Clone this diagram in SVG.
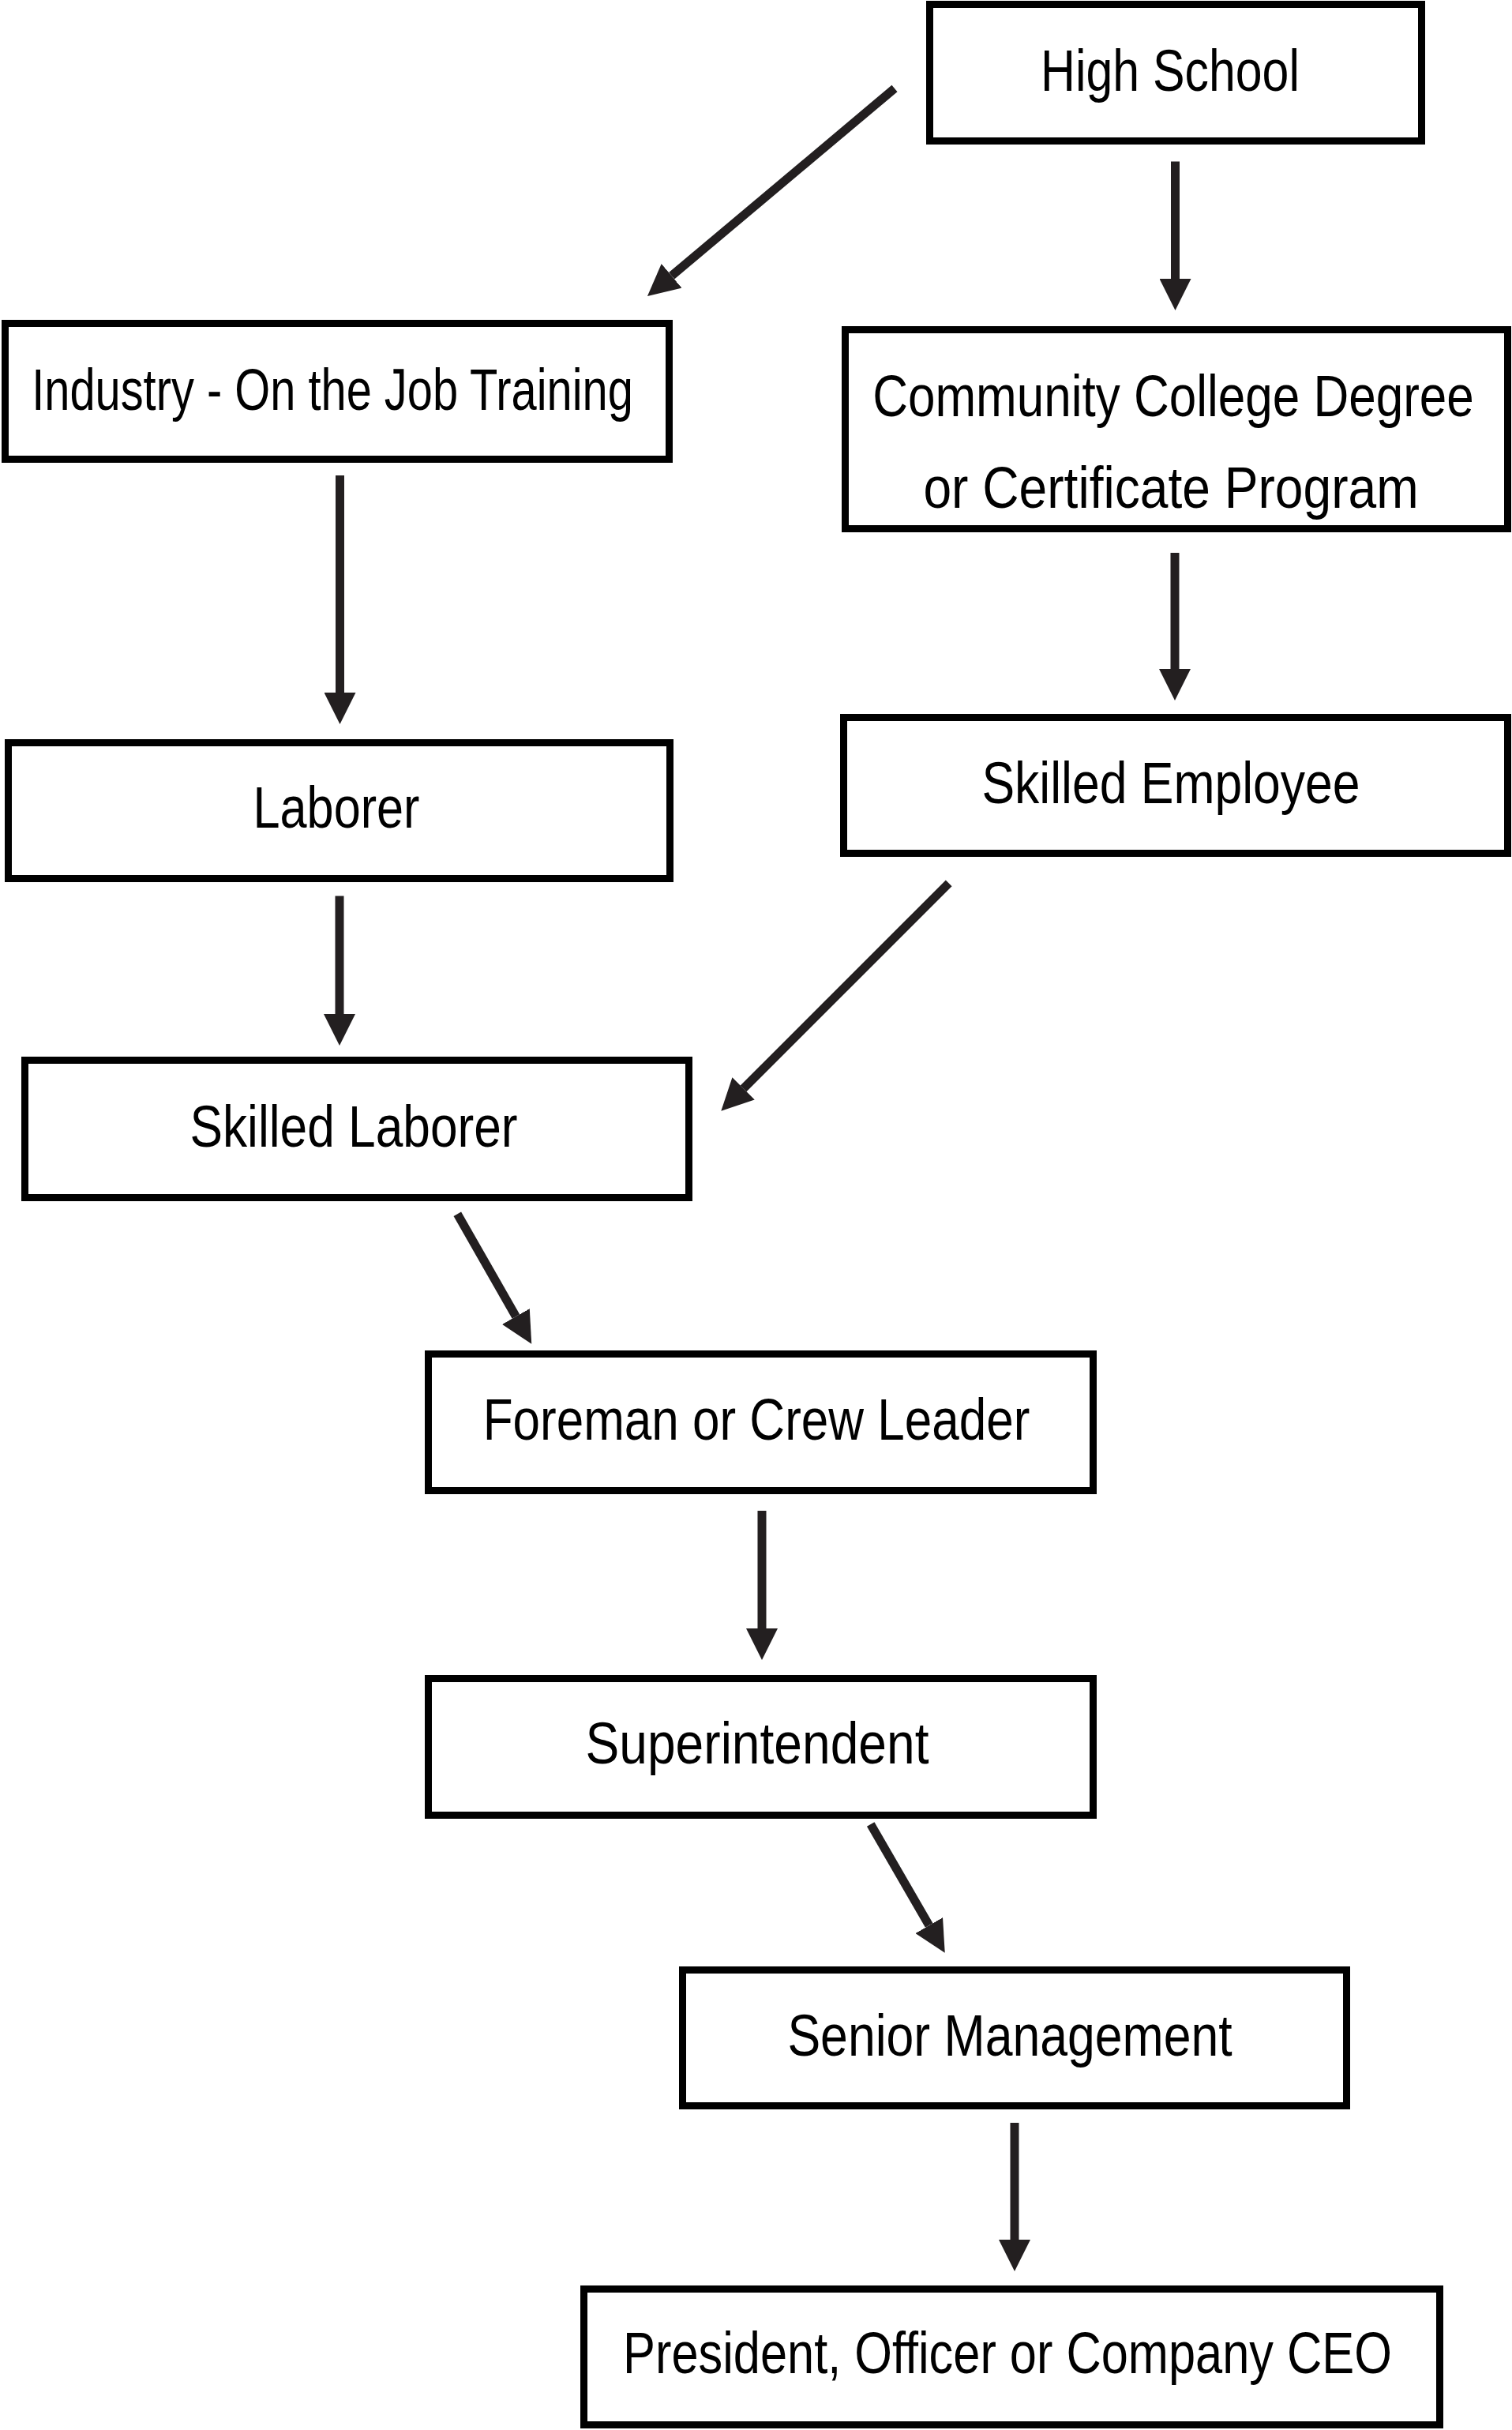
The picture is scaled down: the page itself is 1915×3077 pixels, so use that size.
<svg xmlns="http://www.w3.org/2000/svg" width="1915" height="3077" viewBox="0 0 1915 3077">
<style>
.box{fill:#fff;stroke:#000;stroke-width:9}
.lbl{font-family:"Liberation Sans",Arial,sans-serif;font-size:75px;fill:#000;text-anchor:middle}
.arr{stroke:#231f20;stroke-width:11;fill:none;marker-end:url(#ah)}
</style>
<defs>
<marker id="ah" markerUnits="userSpaceOnUse" viewBox="0 0 40 40" markerWidth="40" markerHeight="40" refX="0" refY="20" orient="auto">
<path d="M0,0 L40,20 L0,40 Z" fill="#231f20"/>
</marker>
</defs>
<rect width="1915" height="3077" fill="#fff"/>
<g id="connectors">
<line class="arr" x1="1133" y1="112" x2="850.6" y2="349.3"/>
<line class="arr" x1="1488.5" y1="204.5" x2="1488.5" y2="353"/>
<line class="arr" x1="430.5" y1="602" x2="430.5" y2="877"/>
<line class="arr" x1="1488" y1="700" x2="1488" y2="847"/>
<line class="arr" x1="430" y1="1134.5" x2="430" y2="1284"/>
<line class="arr" x1="1201.7" y1="1118.3" x2="941.6" y2="1378.4"/>
<line class="arr" x1="579.3" y1="1537.3" x2="653.4" y2="1667"/>
<line class="arr" x1="965" y1="1913" x2="965" y2="2062"/>
<line class="arr" x1="1102.7" y1="2310" x2="1176.7" y2="2438.1"/>
<line class="arr" x1="1285" y1="2688" x2="1285" y2="2836"/>
</g>
<g id="high-school">
<rect class="box" x="1177.5" y="5.5" width="623" height="173"/>
<text class="lbl" transform="translate(1482,115) scale(0.811,1)">High School</text>
</g>
<g id="industry">
<rect class="box" x="6.5" y="409.5" width="841" height="172"/>
<text class="lbl" transform="translate(421,519) scale(0.771,1)">Industry - On the Job Training</text>
</g>
<g id="community-college">
<rect class="box" x="1070.5" y="417.5" width="839" height="252"/>
<text class="lbl" transform="translate(1486,527) scale(0.827,1)">Community College Degree</text>
<text class="lbl" transform="translate(1483,643) scale(0.855,1)">or Certificate Program</text>
</g>
<g id="laborer">
<rect class="box" x="10.5" y="940.5" width="838" height="172"/>
<text class="lbl" transform="translate(426,1048) scale(0.816,1)">Laborer</text>
</g>
<g id="skilled-employee">
<rect class="box" x="1068.5" y="908.5" width="841" height="172"/>
<text class="lbl" transform="translate(1483,1017) scale(0.833,1)">Skilled Employee</text>
</g>
<g id="skilled-laborer">
<rect class="box" x="31.5" y="1342.5" width="841" height="174"/>
<text class="lbl" transform="translate(448,1452) scale(0.83,1)">Skilled Laborer</text>
</g>
<g id="foreman">
<rect class="box" x="542.5" y="1714.5" width="842" height="173"/>
<text class="lbl" transform="translate(958,1823) scale(0.827,1)">Foreman or Crew Leader</text>
</g>
<g id="superintendent">
<rect class="box" x="542.5" y="2125.5" width="842" height="173"/>
<text class="lbl" transform="translate(959,2233) scale(0.855,1)">Superintendent</text>
</g>
<g id="senior-management">
<rect class="box" x="864.5" y="2494.5" width="841" height="172"/>
<text class="lbl" transform="translate(1279,2603) scale(0.834,1)">Senior Management</text>
</g>
<g id="president">
<rect class="box" x="739.5" y="2898.5" width="1084" height="172"/>
<text class="lbl" transform="translate(1276,3005) scale(0.818,1)">President, Officer or Company CEO</text>
</g>
</svg>
